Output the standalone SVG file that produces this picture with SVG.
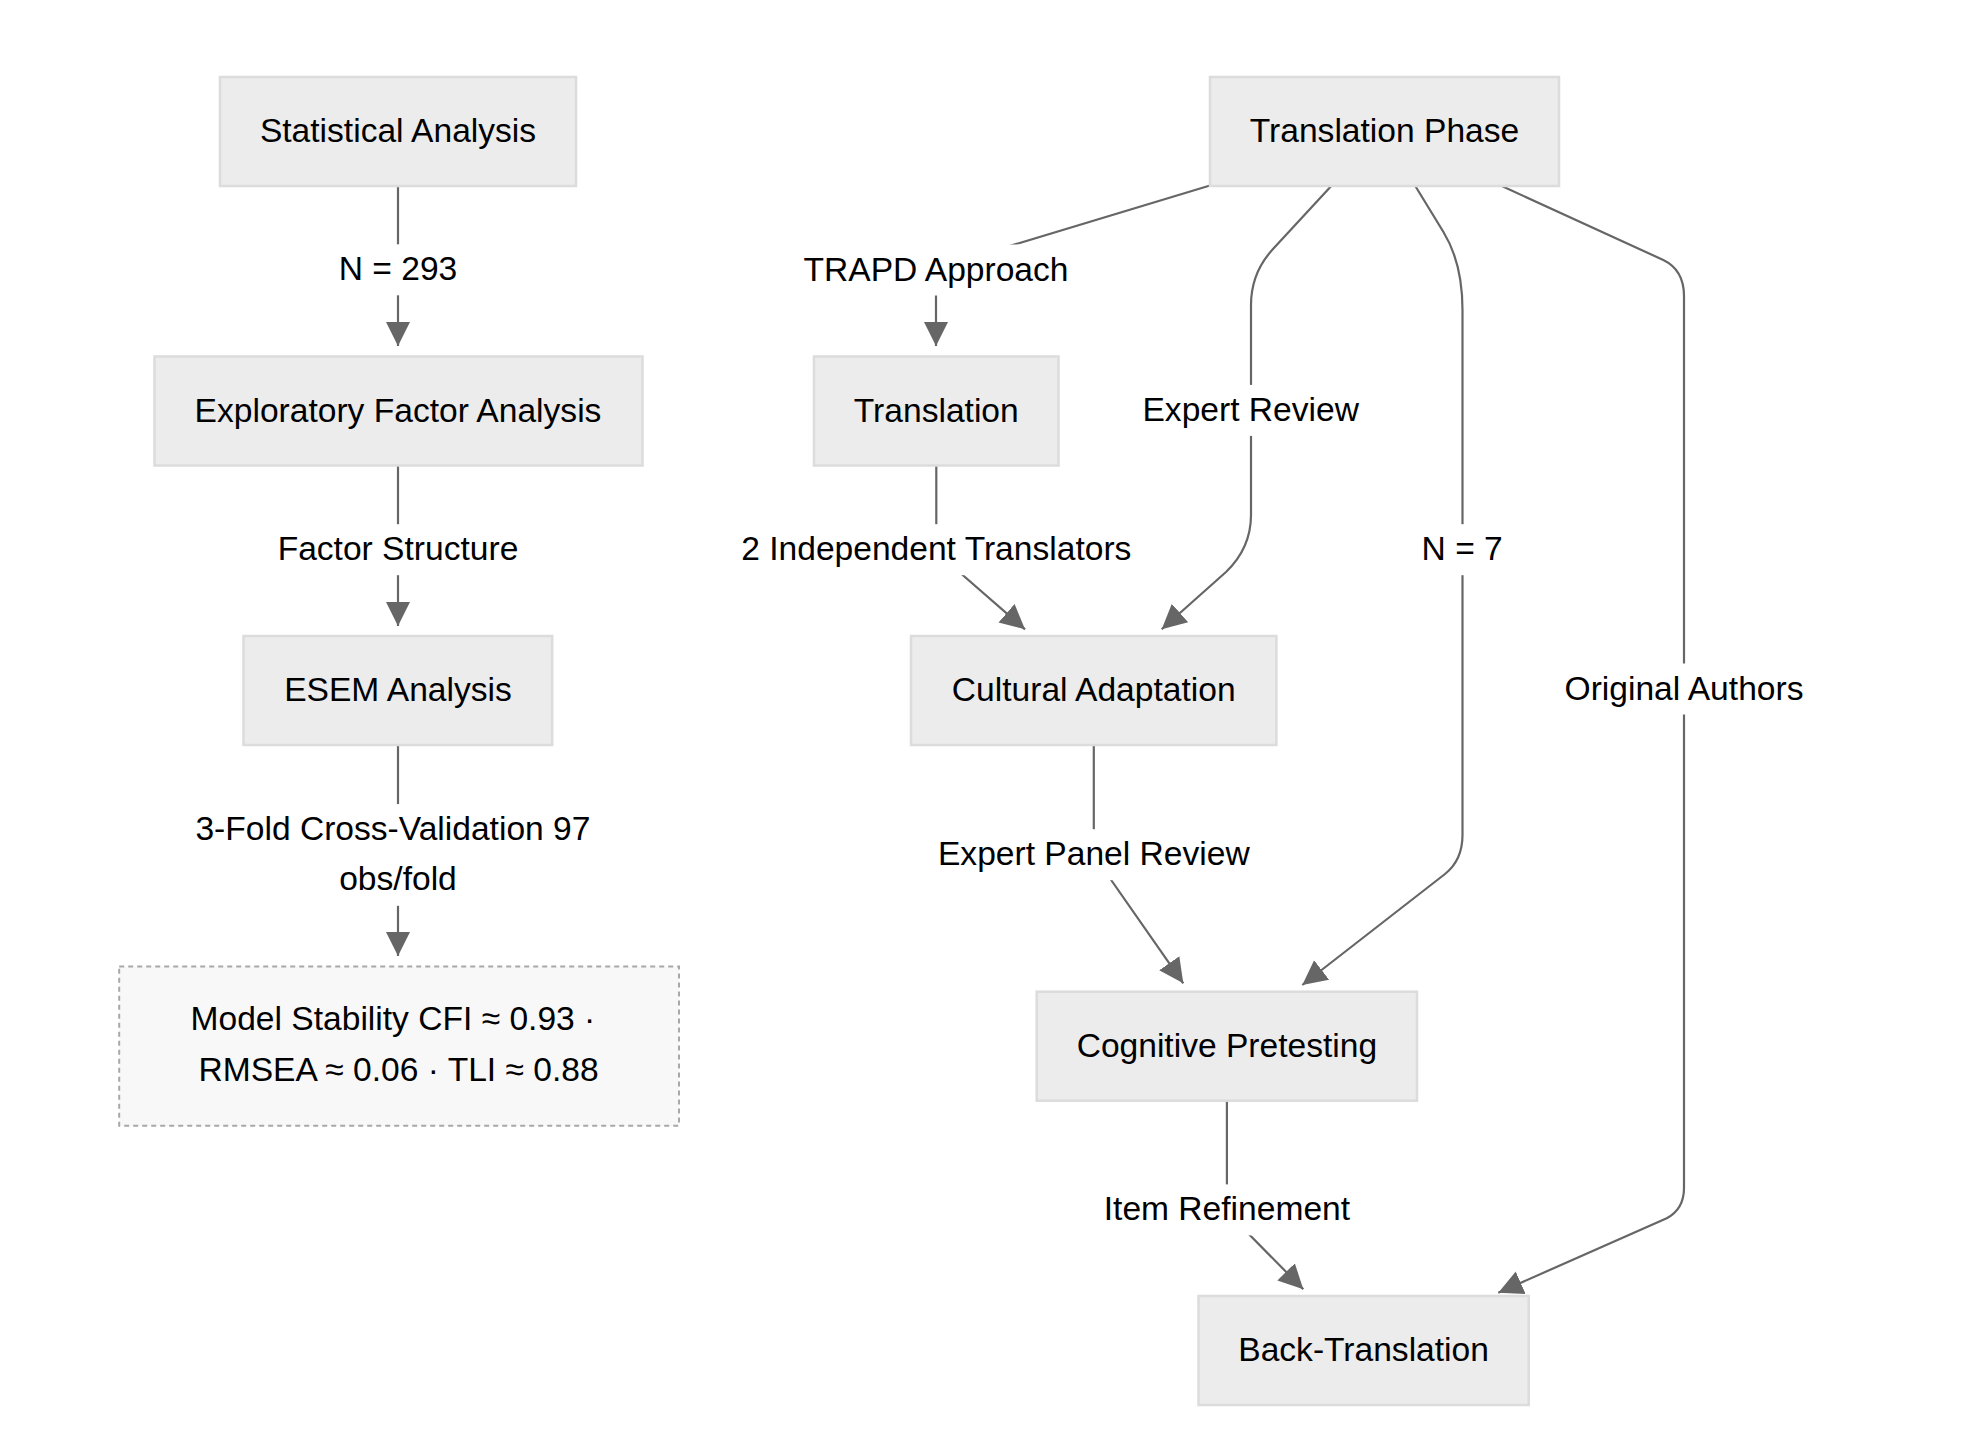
<svg xmlns="http://www.w3.org/2000/svg" width="1968" height="1442" viewBox="0 0 1968 1442">
  <defs>
    <style>
      .node rect { fill: #ECECEC; stroke: #DCDCDC; stroke-width: 2.5; }
      .node.note rect { fill: #F8F8F8; stroke: #A8A8A8; stroke-width: 2; stroke-dasharray: 5 4; }
      text { font-family: "Liberation Sans", Arial, Helvetica, sans-serif; font-size: 33.6px; fill: #000; text-anchor: middle; }
      .edge { fill: none; stroke: #666666; stroke-width: 2.2; marker-end: url(#arrow); }
      .lbl rect { fill: #FFFFFF; }
    </style>
    <marker id="arrow" viewBox="0 0 10 10" markerUnits="userSpaceOnUse" markerWidth="24.5" markerHeight="30" refX="10" refY="5" orient="auto">
      <path d="M0,0 L10,5 L0,10 z" fill="#666666"/>
    </marker>
  </defs>

  <rect width="1968" height="1442" fill="#FFFFFF"/>

  <!-- connectors -->
  <g id="connectors">
    <path class="edge" d="M398,185.6 L398,346"/>
    <path class="edge" d="M398,465.6 L398,626"/>
    <path class="edge" d="M398,744.5 L398,956"/>
    <path class="edge" d="M1210,185.5 L950,264 Q936,268 936,282 L936,346"/>
    <path class="edge" d="M1331.7,185.5 L1273,249 Q1251,273 1251,305 L1251,515 Q1251,548 1226,572 L1161.7,629.3"/>
    <path class="edge" d="M1415,185.5 L1443.3,231.7 Q1462.5,263 1462.5,310 L1462.5,835 Q1462.5,860 1445,874 L1302.3,985"/>
    <path class="edge" d="M1500.7,185.5 L1663.3,260 Q1684,270 1684,296 L1684,1188 Q1684,1209 1666.7,1218.3 L1498.3,1292.7"/>
    <path class="edge" d="M936.3,465.6 L936.3,545 Q936.3,552 942,557 L1025,629.3"/>
    <path class="edge" d="M1093.8,744.3 L1093.8,850 Q1093.8,855 1096.5,859 L1183.3,983.3"/>
    <path class="edge" d="M1226.9,1100.7 L1226.9,1208 Q1226.9,1212 1230,1215 L1303.3,1289.3"/>

    <!-- edge labels -->
    <g class="lbl"><rect x="338.7" y="244.3" width="118.6" height="51"/><text x="398" y="280.3">N = 293</text></g>
    <g class="lbl"><rect x="277.5" y="524.2" width="241" height="51"/><text x="398" y="560.2">Factor Structure</text></g>
    <g class="lbl"><rect x="194.6" y="804.1" width="396.6" height="101.7"/><text x="392.9" y="840.1">3-Fold Cross-Validation 97</text><text x="398" y="890.3">obs/fold</text></g>
    <g class="lbl"><rect x="803.5" y="244.5" width="265" height="51"/><text x="936" y="280.5">TRAPD Approach</text></g>
    <g class="lbl"><rect x="1142.2" y="384.9" width="217" height="51"/><text x="1250.7" y="420.9">Expert Review</text></g>
    <g class="lbl"><rect x="740.5" y="524.2" width="391.6" height="51"/><text x="936.3" y="560.2">2 Independent Translators</text></g>
    <g class="lbl"><rect x="1422" y="524.2" width="80.3" height="51"/><text x="1462.2" y="560.2">N = 7</text></g>
    <g class="lbl"><rect x="1563.5" y="663.5" width="241" height="51"/><text x="1684" y="699.5">Original Authors</text></g>
    <g class="lbl"><rect x="937.6" y="829.2" width="312.5" height="51"/><text x="1093.8" y="865.2">Expert Panel Review</text></g>
    <g class="lbl"><rect x="1103.4" y="1184.4" width="247" height="51"/><text x="1226.9" y="1220.4">Item Refinement</text></g>
  </g>

  <!-- nodes -->
  <g id="statistical-analysis" class="node">
    <rect x="220" y="77" width="356" height="109"/>
    <text x="398" y="142">Statistical Analysis</text>
  </g>
  <g id="exploratory-factor-analysis" class="node">
    <rect x="154.5" y="356.5" width="488" height="109"/>
    <text x="398" y="421.5">Exploratory Factor Analysis</text>
  </g>
  <g id="esem-analysis" class="node">
    <rect x="243.5" y="636" width="308.7" height="109"/>
    <text x="398" y="701">ESEM Analysis</text>
  </g>
  <g id="model-stability" class="node note">
    <rect x="119.2" y="966.4" width="559.8" height="159.4"/>
    <text x="392.9" y="1029.7">Model Stability CFI ≈ 0.93 ·</text>
    <text x="398.5" y="1081.1">RMSEA ≈ 0.06 · TLI ≈ 0.88</text>
  </g>
  <g id="translation-phase" class="node">
    <rect x="1210" y="77" width="349" height="109"/>
    <text x="1384.5" y="142">Translation Phase</text>
  </g>
  <g id="translation" class="node">
    <rect x="814" y="356.5" width="244.5" height="109"/>
    <text x="936.3" y="421.5">Translation</text>
  </g>
  <g id="cultural-adaptation" class="node">
    <rect x="911" y="636" width="365.4" height="109"/>
    <text x="1093.7" y="701">Cultural Adaptation</text>
  </g>
  <g id="cognitive-pretesting" class="node">
    <rect x="1036.7" y="991.7" width="380.3" height="109"/>
    <text x="1226.9" y="1056.7">Cognitive Pretesting</text>
  </g>
  <g id="back-translation" class="node">
    <rect x="1198.5" y="1296" width="330.2" height="109"/>
    <text x="1363.6" y="1361">Back-Translation</text>
  </g>
</svg>
